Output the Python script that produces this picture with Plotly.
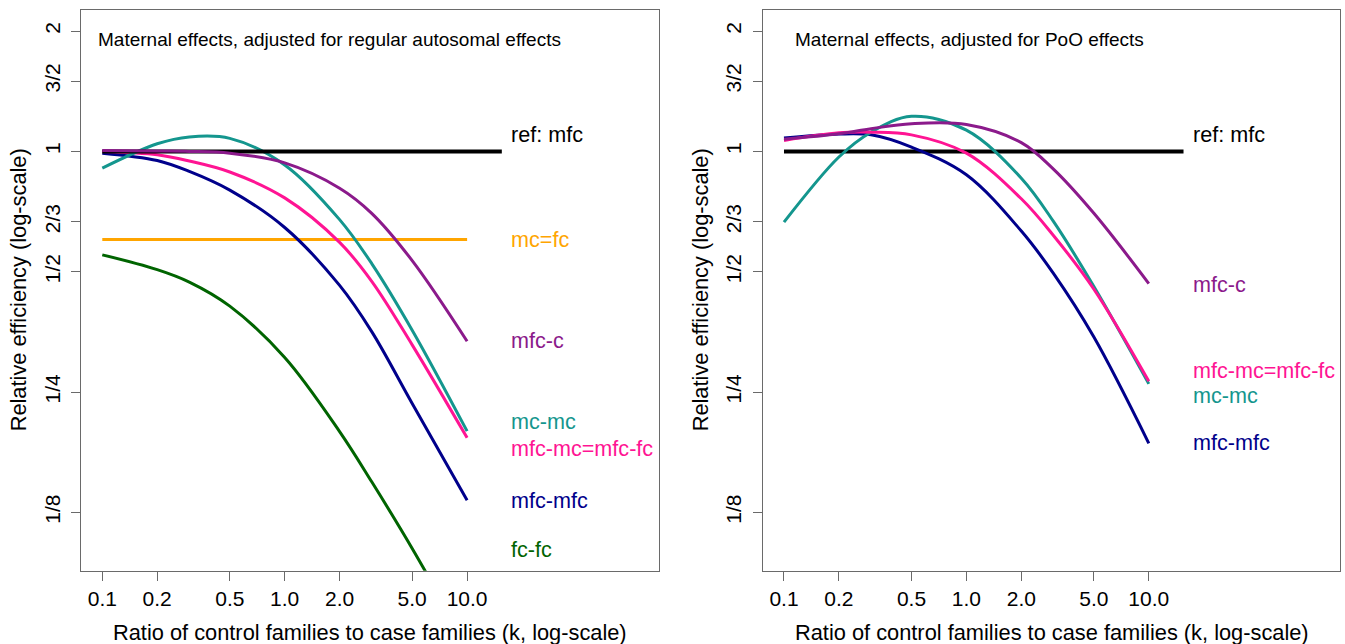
import math
import plotly.graph_objects as go

# ---------------- data ----------------
k_grid = [0.1, 0.2, 0.3, 0.5, 1, 2, 3, 5, 10]

# reference line and constant mc=fc line
ref_k = [0.1, 15.5]
ref_val = [1.0, 1.0]
mcfc_k = [0.1, 10]
mcfc_val = [0.602, 0.602]

# Left panel: maternal effects, adjusted for regular autosomal effects
left_mfc_c = [1.005, 1.002, 1.0, 0.99, 0.936, 0.809, 0.70, 0.533, 0.335]
left_mc_mc = [0.908, 1.045, 1.087, 1.078, 0.925, 0.675, 0.524, 0.357, 0.1995]
left_mfc_mc = [1.0, 0.981, 0.946, 0.888, 0.765, 0.592, 0.473, 0.328, 0.192]
left_mfc_mfc = [0.99, 0.949, 0.891, 0.80, 0.645, 0.462, 0.354, 0.234, 0.134]
left_fc_fc = [0.551, 0.506, 0.471, 0.41, 0.305, 0.199, 0.149, 0.1015, 0.058]

# Right panel: maternal effects, adjusted for PoO effects
right_mfc_c = [1.073, 1.107, 1.14, 1.173, 1.168, 1.052, 0.903, 0.70, 0.467]
right_mc_mc = [0.665, 0.968, 1.117, 1.224, 1.13, 0.857, 0.668, 0.459, 0.262]
right_mfc_mc = [1.065, 1.113, 1.117, 1.10, 0.99, 0.761, 0.616, 0.452, 0.266]
right_mfc_mfc = [1.08, 1.105, 1.10, 1.025, 0.874, 0.632, 0.495, 0.343, 0.186]

# tick labels
x_tickvals = [0.1, 0.2, 0.5, 1, 2, 5, 10]
x_ticktext = ["0.1", "0.2", "0.5", "1.0", "2.0", "5.0", "10.0"]
y_tickvals = [1 / 8, 1 / 4, 1 / 2, 2 / 3, 1, 3 / 2, 2]
y_ticktext = ["1/8", "1/4", "1/2", "2/3", "1", "3/2", "2"]

# curve labels (text, y position)
left_labels = ["ref: mfc", "mc=fc", "mfc-c", "mc-mc", "mfc-mc=mfc-fc", "mfc-mfc", "fc-fc"]
left_label_y = [1.10, 0.602, 0.336, 0.211, 0.181, 0.134, 0.101]
right_labels = ["ref: mfc", "mfc-c", "mfc-mc=mfc-fc", "mc-mc", "mfc-mfc"]
right_label_y = [1.10, 0.464, 0.283, 0.245, 0.187]
label_k = 17.0

panel_titles = ["Maternal effects, adjusted for regular autosomal effects",
                "Maternal effects, adjusted for PoO effects"]
x_title = "Ratio of control families to case families (k, log-scale)"
y_title = "Relative efficiency (log-scale)"

# ---------------- styles ----------------
C_BLACK = "#000000"
C_ORANGE = "#FFA500"
C_PURPLE = "#8B1A8B"
C_TEAL = "#14968E"
C_PINK = "#FF1493"
C_NAVY = "#00008B"
C_GREEN = "#006400"
FONT = "Liberation Sans, Arial, sans-serif"
FRAME = "#6a6a6a"

W, H = 1345, 644
# plot frames in pixels
L1, R1 = 81.3, 658.7
L2, R2 = 763.0, 1340.4
TOP, BOT = 10.0, 570.7

fig = go.Figure()


def add_line(xs, ys, color, width, ax):
    fig.add_trace(go.Scatter(
        x=xs, y=ys, mode="lines",
        line=dict(color=color, width=width, shape="spline", smoothing=1.0),
        xaxis="x" if ax == 1 else "x2", yaxis="y" if ax == 1 else "y2",
        showlegend=False, hoverinfo="skip"))


# left panel
add_line(mcfc_k, mcfc_val, C_ORANGE, 3, 1)
add_line(k_grid, left_fc_fc, C_GREEN, 3, 1)
add_line(k_grid, left_mfc_mfc, C_NAVY, 3, 1)
add_line(k_grid, left_mfc_mc, C_PINK, 3, 1)
add_line(k_grid, left_mc_mc, C_TEAL, 3, 1)
add_line(ref_k, ref_val, C_BLACK, 4, 1)
add_line(k_grid, left_mfc_c, C_PURPLE, 3, 1)

# right panel
add_line(ref_k, ref_val, C_BLACK, 4, 2)
add_line(k_grid, right_mfc_mfc, C_NAVY, 3, 2)
add_line(k_grid, right_mc_mc, C_TEAL, 3, 2)
add_line(k_grid, right_mfc_mc, C_PINK, 3, 2)
add_line(k_grid, right_mfc_c, C_PURPLE, 3, 2)

annotations = []
left_colors = [C_BLACK, C_ORANGE, C_PURPLE, C_TEAL, C_PINK, C_NAVY, C_GREEN]
right_colors = [C_BLACK, C_PURPLE, C_PINK, C_TEAL, C_NAVY]
for txt, yv, col in zip(left_labels, left_label_y, left_colors):
    annotations.append(dict(x=math.log10(label_k), y=math.log10(yv), xref="x", yref="y",
                            text=txt, showarrow=False, xanchor="left", yanchor="middle",
                            font=dict(family=FONT, size=21.6, color=col)))
for txt, yv, col in zip(right_labels, right_label_y, right_colors):
    annotations.append(dict(x=math.log10(label_k), y=math.log10(yv), xref="x2", yref="y2",
                            text=txt, showarrow=False, xanchor="left", yanchor="middle",
                            font=dict(family=FONT, size=21.6, color=col)))

# panel titles
annotations.append(dict(x=95.5 / W, y=1 - 39 / H, xref="paper", yref="paper",
                        text=panel_titles[0], showarrow=False, xanchor="left", yanchor="middle",
                        font=dict(family=FONT, size=19, color="#000000")))
annotations.append(dict(x=793 / W, y=1 - 39 / H, xref="paper", yref="paper",
                        text=panel_titles[1], showarrow=False, xanchor="left", yanchor="middle",
                        font=dict(family=FONT, size=19, color="#000000")))
# axis titles
for cx in [(L1 + R1) / 2, (L2 + R2) / 2]:
    annotations.append(dict(x=cx / W, y=1 - 632 / H, xref="paper", yref="paper",
                            text=x_title, showarrow=False, xanchor="center", yanchor="middle",
                            font=dict(family=FONT, size=21.8, color="#000000")))
for cx in [18.0, 700.0]:
    annotations.append(dict(x=cx / W, y=1 - ((TOP + BOT) / 2) / H, xref="paper", yref="paper",
                            text=y_title, showarrow=False, xanchor="center", yanchor="middle",
                            textangle=-90,
                            font=dict(family=FONT, size=21.8, color="#000000")))

xr = [-1.1151, 2.0504]
yr = [-1.0492, 0.3538]


def xaxis(dom):
    return dict(type="log", range=xr, domain=dom, tickvals=x_tickvals, ticktext=x_ticktext,
                showline=True, mirror=True, linecolor=FRAME, linewidth=1.3,
                ticks="outside", ticklen=9, tickwidth=1.3, tickcolor=FRAME,
                showgrid=False, zeroline=False, tickangle=0,
                tickfont=dict(family=FONT, size=21, color="#000000"))


def yaxis(anchor):
    return dict(type="log", range=yr, domain=[1 - BOT / H, 1 - TOP / H], anchor=anchor,
                tickvals=y_tickvals, ticktext=y_ticktext,
                showline=True, mirror=True, linecolor=FRAME, linewidth=1.3,
                ticks="outside", ticklen=9, tickwidth=1.3, tickcolor=FRAME,
                showgrid=False, zeroline=False, tickangle=-90, ticklabelstandoff=3,
                tickfont=dict(family=FONT, size=21, color="#000000"))


xa1 = xaxis([L1 / W, R1 / W]); xa1["anchor"] = "y"
xa2 = xaxis([L2 / W, R2 / W]); xa2["anchor"] = "y2"

fig.update_layout(
    width=W, height=H,
    margin=dict(l=0, r=0, t=0, b=0),
    paper_bgcolor="white", plot_bgcolor="white",
    xaxis=xa1, xaxis2=xa2,
    yaxis=yaxis("x"), yaxis2=yaxis("x2"),
    annotations=annotations,
    showlegend=False,
)

fig.write_html("out.html",
               config={"displayModeBar": False},
               post_script="document.body.style.margin='0px';document.body.style.overflow='hidden';")
